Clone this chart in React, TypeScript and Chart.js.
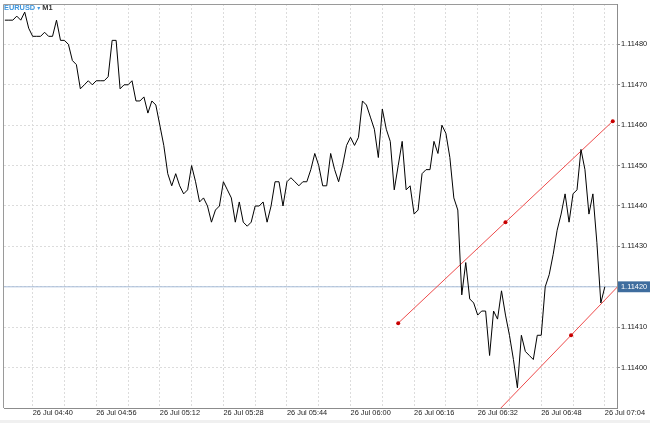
import React, { useEffect, useRef } from "react";
import { Chart, registerables } from "chart.js";

Chart.register(...registerables);

const SYMBOL = "EURUSD";
const TIMEFRAME = "M1";
const DAY_LABEL = "26 Jul";
const FIRST_BAR_TIME = "04:33";
const CURRENT_PRICE = 1.1142;
const VIEW_START = "04:32:47";
const VIEW_END = "07:07:04";
const PRICE_MIN = 1.1139;
const PRICE_MAX = 1.1149;

// M1 closes, 04:33 ... 07:04
const closePrices = [
  1.11486, 1.11486, 1.11486, 1.11487, 1.11486, 1.11488, 1.11484, 1.11482, 1.11482, 1.11482,
  1.11483, 1.11482, 1.11482, 1.11486, 1.11481, 1.11481, 1.1148, 1.11476, 1.11475, 1.11469,
  1.1147, 1.11471, 1.1147, 1.11471, 1.11471, 1.11471, 1.11472, 1.11481, 1.11481, 1.11469,
  1.1147, 1.1147, 1.11471, 1.11466, 1.11466, 1.11467, 1.11463, 1.11466, 1.11465, 1.1146,
  1.11455, 1.11448, 1.11445, 1.11448, 1.11445, 1.11443, 1.11444, 1.1145, 1.11446, 1.11441,
  1.11442, 1.1144, 1.11436, 1.11439, 1.1144, 1.11446, 1.11444, 1.11442, 1.11436, 1.11441,
  1.11436, 1.11435, 1.11436, 1.1144, 1.1144, 1.11441, 1.11436, 1.1144, 1.11446, 1.11446,
  1.1144, 1.11446, 1.11447, 1.11446, 1.11445, 1.11446, 1.11446, 1.11449, 1.11453, 1.1145,
  1.11445, 1.11445, 1.11453, 1.11449, 1.11446, 1.1145, 1.11455, 1.11457, 1.11455, 1.11457,
  1.11466, 1.11465, 1.11462, 1.11459, 1.11452, 1.11464, 1.11459, 1.11456, 1.11444, 1.1145,
  1.11456, 1.11444, 1.11445, 1.11438, 1.11439, 1.11448, 1.11449, 1.11449, 1.11456, 1.11453,
  1.1146, 1.11458, 1.11452, 1.11442, 1.11439, 1.11418, 1.11426, 1.11417, 1.11416, 1.11413,
  1.11414, 1.11414, 1.11403, 1.11414, 1.11412, 1.11419, 1.11413, 1.11408, 1.11402, 1.11395,
  1.11408, 1.11404, 1.11403, 1.11402, 1.11408, 1.11408, 1.1142, 1.11423, 1.11428, 1.11434,
  1.11438, 1.11443, 1.11436, 1.11443, 1.11444, 1.11454, 1.11449, 1.11438, 1.11443, 1.11431,
  1.11416, 1.1142,
];

const priceTickValues = [1.114, 1.1141, 1.1142, 1.1143, 1.1144, 1.1145, 1.1146, 1.1147, 1.1148];
const timeGridTimes = [
  "04:40", "04:48", "04:56", "05:04", "05:12", "05:20", "05:28", "05:36", "05:44", "05:52",
  "06:00", "06:08", "06:16", "06:24", "06:32", "06:40", "06:48", "06:56", "07:04",
];
const timeLabelTimes = ["04:40", "04:56", "05:12", "05:28", "05:44", "06:00", "06:16", "06:32", "06:48", "07:04"];

const channelUpperTimes = ["06:12", "06:39", "07:06"];
const channelUpperPrices = [1.11411, 1.11436, 1.11461];
const channelLowerTimes = ["06:30", "06:55:30", "07:15"];
const channelLowerPrices = [1.11382, 1.11408, 1.11428];
const channelLowerDots = [0, 2, 0];

function toMinutes(s: string): number {
  const parts = s.split(":").map(Number);
  return parts[0] * 60 + parts[1] + (parts[2] || 0) / 60;
}
function fmtTime(v: number): string {
  const h = Math.floor(v / 60);
  const m = Math.round(v - h * 60);
  return `${String(h).padStart(2, "0")}:${String(m).padStart(2, "0")}`;
}

const FONT_FAMILY = '"Liberation Sans", Arial, sans-serif';
const TICK_FONT_SIZE = 7.4;

const decorPlugin = {
  id: "decor",
  beforeDraw(chart: any) {
    const { ctx, width, height } = chart;
    ctx.save();
    ctx.fillStyle = "#ffffff";
    ctx.fillRect(0, 0, width, height);
    ctx.fillStyle = "#f0f0f0";
    ctx.fillRect(0, 420, width, height - 420);
    ctx.restore();
  },
  afterDraw(chart: any) {
    const { ctx, chartArea } = chart;
    ctx.save();
    ctx.strokeStyle = "#9a9a9a";
    ctx.lineWidth = 1;
    ctx.beginPath();
    const lx = Math.round(chartArea.left) - 0.5;
    const ty = Math.round(chartArea.top) + 0.5;
    ctx.moveTo(lx, chartArea.bottom);
    ctx.lineTo(lx, ty);
    ctx.lineTo(chartArea.right, ty);
    ctx.stroke();

    ctx.font = `bold 7.4px ${FONT_FAMILY}`;
    ctx.textBaseline = "alphabetic";
    let x = 4;
    ctx.fillStyle = "#3d95dc";
    ctx.fillText(SYMBOL, x, 10);
    x += ctx.measureText(SYMBOL).width + 2;
    ctx.font = `6px "DejaVu Sans", sans-serif`;
    ctx.fillText("\u25BE", x, 10);
    x += ctx.measureText("\u25BE").width + 2;
    ctx.font = `bold 7.4px ${FONT_FAMILY}`;
    ctx.fillStyle = "#333333";
    ctx.fillText(TIMEFRAME, x, 10);
    ctx.restore();
  },
};

export default function App() {
  const ref = useRef<HTMLCanvasElement>(null);

  useEffect(() => {
    const canvas = ref.current;
    if (!canvas) return;
    const firstBar = toMinutes(FIRST_BAR_TIME);
    const pricePoints = closePrices.map((p, i) => ({ x: firstBar + i, y: p }));
    const upperPoints = channelUpperTimes.map((t, i) => ({ x: toMinutes(t), y: channelUpperPrices[i] }));
    const lowerPoints = channelLowerTimes.map((t, i) => ({ x: toMinutes(t), y: channelLowerPrices[i] }));
    const viewStart = toMinutes(VIEW_START);
    const viewEnd = toMinutes(VIEW_END);
    const currentLine = [
      { x: viewStart - 10, y: CURRENT_PRICE },
      { x: viewEnd + 10, y: CURRENT_PRICE },
    ];
    const gridMinutes = timeGridTimes.map(toMinutes);
    const labelMinutes = new Set(timeLabelTimes.map(toMinutes));
    const isCurrent = (v: number) => Math.abs(v - CURRENT_PRICE) < 1e-9;

    const chart = new Chart(canvas, {
      type: "line",
      data: {
        datasets: [
          {
            data: pricePoints,
            borderColor: "#000000",
            borderWidth: 1,
            pointRadius: 0,
            tension: 0,
            order: 0,
            clip: 0,
          } as any,
          {
            data: upperPoints,
            borderColor: "#ee4b4b",
            borderWidth: 1,
            pointRadius: 2,
            pointBackgroundColor: "#c80000",
            pointBorderWidth: 0,
            tension: 0,
            order: 1,
            clip: 0,
          },
          {
            data: lowerPoints,
            borderColor: "#ee4b4b",
            borderWidth: 1,
            pointRadius: channelLowerDots,
            pointBackgroundColor: "#c80000",
            pointBorderWidth: 0,
            tension: 0,
            order: 1,
            clip: 0,
          },
          {
            data: currentLine,
            borderColor: "#a6bcd8",
            borderWidth: 1,
            pointRadius: 0,
            order: 2,
            clip: 0,
          },
        ],
      },
      options: {
        animation: false,
        responsive: false,
        events: [],
        layout: { padding: { left: 3, top: 1, right: 0, bottom: 0 } },
        plugins: { legend: { display: false }, tooltip: { enabled: false } },
        scales: {
          x: {
            type: "linear",
            position: "bottom",
            min: viewStart,
            max: viewEnd,
            afterBuildTicks: (axis: any) => {
              axis.ticks = gridMinutes.map((v) => ({ value: v }));
            },
            afterFit: (axis: any) => {
              axis.height = 15;
              axis.paddingLeft = 0;
              axis.paddingRight = 0;
            },
            grid: { color: "#dcdcdc", lineWidth: 1, drawTicks: false },
            border: { display: true, color: "#8c8c8c", width: 1, dash: [2, 2] },
            ticks: {
              autoSkip: false,
              maxRotation: 0,
              minRotation: 0,
              align: "start",
              padding: 1,
              color: "#222222",
              font: { family: FONT_FAMILY, size: TICK_FONT_SIZE },
              callback: (v: any) => (labelMinutes.has(Number(v)) ? `${DAY_LABEL} ${fmtTime(Number(v))}` : ""),
            },
          },
          y: {
            type: "linear",
            position: "right",
            min: PRICE_MIN,
            max: PRICE_MAX,
            afterBuildTicks: (axis: any) => {
              axis.ticks = priceTickValues.map((v) => ({ value: v }));
            },
            afterFit: (axis: any) => {
              axis.width = 33;
              axis.paddingTop = 0;
              axis.paddingBottom = 0;
            },
            grid: { color: "#dcdcdc", lineWidth: 1, drawTicks: true, tickLength: 3, tickColor: "#8c8c8c" },
            border: { display: true, color: "#8c8c8c", width: 1, dash: [2, 2] },
            ticks: {
              padding: 1,
              font: { family: FONT_FAMILY, size: TICK_FONT_SIZE },
              color: (c: any) => (isCurrent(c.tick.value) ? "#ffffff" : "#222222"),
              showLabelBackdrop: (c: any) => isCurrent(c.tick.value),
              backdropColor: "#3f6d9e",
              backdropPadding: { top: 1, bottom: 1, left: 3, right: 3 },
              callback: (v: any) => Number(v).toFixed(5),
            },
          },
        },
      },
      plugins: [decorPlugin],
    } as any);

    return () => chart.destroy();
  }, []);

  return (
    <div style={{ position: "fixed", left: 0, top: 0, width: 650, height: 423, background: "#ffffff" }}>
      <canvas ref={ref} width={650} height={423} style={{ display: "block", width: 650, height: 423 }} />
    </div>
  );
}
